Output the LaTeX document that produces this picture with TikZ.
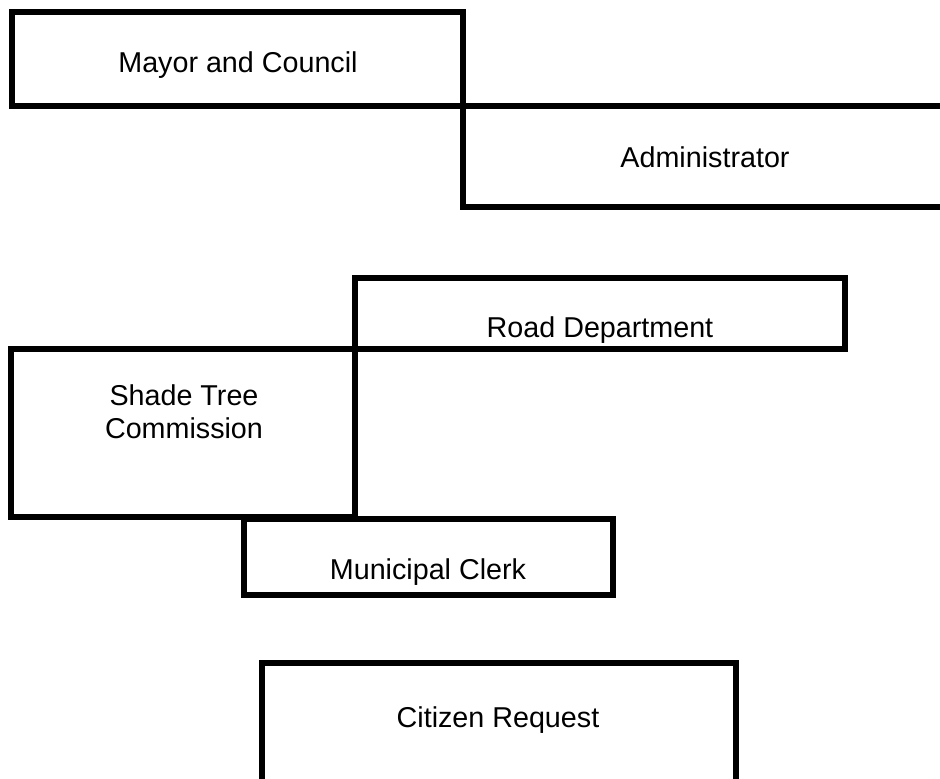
\documentclass[tikz,border=0pt]{standalone}
\usepackage{fontspec}
\setmainfont{Liberation Sans}
\begin{document}
\begin{tikzpicture}[x=1pt,y=-1pt,
  boxline/.style={draw=black,line width=6pt,line join=miter},
  lbl/.style={font=\fontsize{28.7}{33}\selectfont,inner sep=0pt,anchor=base,align=center}]
\useasboundingbox (0,0) rectangle (940,779);
\clip (0,0) rectangle (940,779);
% boxes
\draw[boxline] (12,12) rectangle (463,106);
\draw[boxline] (463,106) rectangle (950,207);
\draw[boxline] (355,278) rectangle (845,349);
\draw[boxline] (11,349) rectangle (355,517);
\draw[boxline] (244,519) rectangle (613,595);
\draw[boxline] (262,663) rectangle (736,800);
% labels
\node[lbl] (mayor) at (238,72) {Mayor and Council};
\node[lbl] (admin) at (705,167) {Administrator};
\node[lbl] (road) at (600,337) {Road Department};
\node[lbl,anchor=center] (shade) at (184,412) {Shade Tree\\Commission};
\node[lbl] (clerk) at (428,579) {Municipal Clerk};
\node[lbl] (citizen) at (498,727) {Citizen Request};
\end{tikzpicture}
\end{document}
